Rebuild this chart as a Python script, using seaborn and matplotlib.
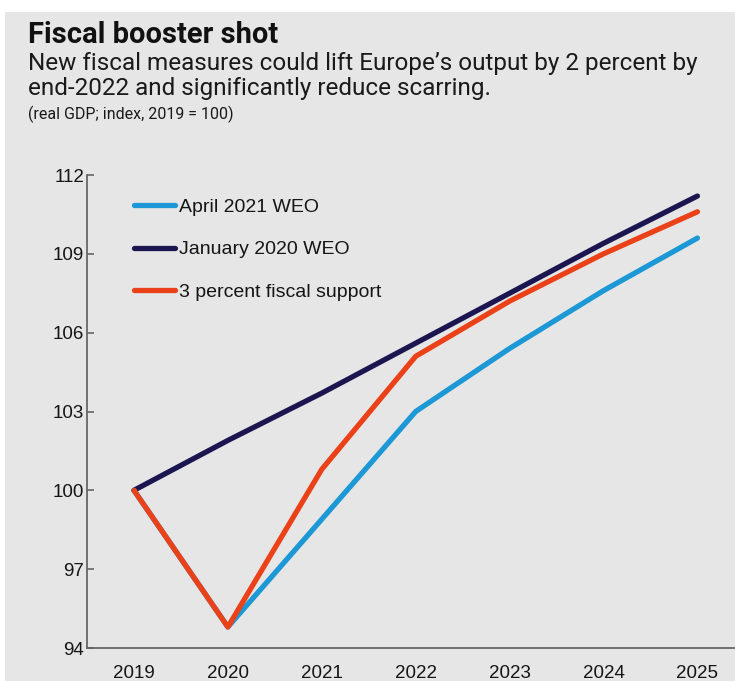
import matplotlib
matplotlib.use("Agg")
import matplotlib.pyplot as plt
from matplotlib.patches import Rectangle
from matplotlib.lines import Line2D
import seaborn as sns
import pandas as pd

years = [2019, 2020, 2021, 2022, 2023, 2024, 2025]
april_2021_weo = [100.0, 94.8, 98.9, 103.0, 105.4, 107.6, 109.6]
january_2020_weo = [100.0, 101.9, 103.7, 105.6, 107.5, 109.4, 111.2]
fiscal_support = [100.0, 94.8, 100.8, 105.1, 107.2, 109.0, 110.6]

series_names = ["April 2021 WEO", "January 2020 WEO", "3 percent fiscal support"]
series_colors = ["#1b98d5", "#1b1650", "#ea4118"]
y_ticks = [94, 97, 100, 103, 106, 109, 112]

df = pd.DataFrame({
    "year": years * 3,
    "value": april_2021_weo + january_2020_weo + fiscal_support,
    "series": [series_names[0]] * 7 + [series_names[1]] * 7 + [series_names[2]] * 7,
})

sns.set_theme(style="white")
plt.rcParams["font.family"] = ["Liberation Sans", "DejaVu Sans"]

bg = "#e6e6e6"
fig = plt.figure(figsize=(7.35, 6.81), dpi=100, facecolor="white")
fig.patches.append(Rectangle((5 / 735, 0), 1, 1 - 12 / 681, transform=fig.transFigure,
                             facecolor=bg, edgecolor="none", zorder=-10))

ax = fig.add_axes([87 / 735, 33 / 681, 1 - 87 / 735, (648 - 175) / 681])
ax.set_facecolor(bg)

sns.lineplot(data=df, x="year", y="value", hue="series", hue_order=series_names,
             palette=series_colors, linewidth=3.8, ax=ax, legend=False,
             solid_capstyle="round", solid_joinstyle="round")
# keep the red line on top of the navy one
for line, z in zip(ax.get_lines(), [3, 2, 4]):
    line.set_zorder(z)

ax.set_xlim(2018.5, 2025.4)
ax.set_ylim(94, 112)
ax.set_xticks(years)
ax.set_xticklabels([str(y) for y in years])
ax.set_yticks(y_ticks)
ax.set_yticklabels([str(t) for t in y_ticks])
ax.set_xlabel("")
ax.set_ylabel("")

for side in ["top", "right"]:
    ax.spines[side].set_visible(False)
for side in ["left", "bottom"]:
    ax.spines[side].set_color("#666666")
    ax.spines[side].set_linewidth(1.3)

ax.tick_params(axis="y", direction="in", length=5, width=1.2, color="#666666",
               labelsize=13.5, labelcolor="#151515", pad=2, left=True)
ax.tick_params(axis="x", length=0, labelsize=13.5, labelcolor="#151515", pad=12)

handles = [Line2D([0], [0], color=c, lw=3.8) for c in series_colors]
leg = ax.legend(handles, series_names, loc="upper left", bbox_to_anchor=(0.06, 0.967),
                frameon=False, fontsize=14, handlelength=2.15, handletextpad=0.2,
                labelspacing=1.28, borderaxespad=0)
for t in leg.get_texts():
    t.set_color("#151515")

narrow = ["Roboto", "DejaVu Sans"]
fig.text(28 / 735, 1 - 21 / 681, "Fiscal booster shot", family=narrow,
         fontsize=21, fontweight="bold", color="#111111", va="top", ha="left")
fig.text(28 / 735, 1 - 52 / 681,
         "New fiscal measures could lift Europe\u2019s output by 2 percent by\nend-2022 and significantly reduce scarring.",
         family=narrow, fontsize=17.5, color="#1a1a1a", va="top", ha="left", linespacing=1.1)
fig.text(28 / 735, 1 - 106 / 681, "(real GDP; index, 2019 = 100)", family=narrow,
         fontsize=11.5, color="#1a1a1a", va="top", ha="left")

fig.savefig("out.png", dpi=100, facecolor="white")
